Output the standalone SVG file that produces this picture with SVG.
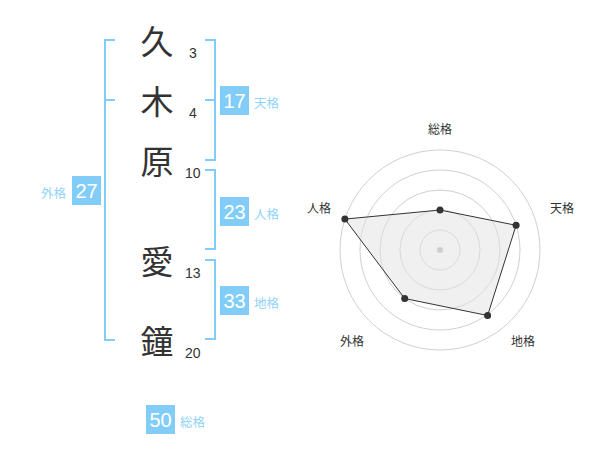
<svg xmlns="http://www.w3.org/2000/svg" width="600" height="470" viewBox="0 0 600 470">
<style>
.br{fill:none;stroke:#82cdf7;stroke-width:2}
.ch{font-family:"Noto Sans CJK JP","Noto Sans CJK SC",sans-serif;font-size:33px;fill:#333;text-anchor:middle}
.st{font-family:"Liberation Sans",Arial,sans-serif;font-size:14px;fill:#333}
.bx{fill:#82cdf7}
.bn{font-family:"Liberation Sans",Arial,sans-serif;font-size:20px;fill:#fff;text-anchor:middle}
.lb{font-family:"Noto Sans CJK JP","Noto Sans CJK SC",sans-serif;font-size:12.5px;fill:#8fd3f8}
.rl{font-family:"Noto Sans CJK JP","Noto Sans CJK SC",sans-serif;font-size:12px;fill:#333;text-anchor:middle}
.ring{fill:none;stroke:#d0d0d0;stroke-width:1}
</style>
<rect width="600" height="470" fill="#fff"/>
<g id="connectors">
<path class="br" d="M115,40 H105 V340 H115 M105,100 H115"/>
<path class="br" d="M205,40 H215 V160 H205 M215,100 H205"/>
<path class="br" d="M205,170 H215 V249 H205"/>
<path class="br" d="M205,260 H215 V339 H205"/>
</g>
<g id="char1"><text class="ch" x="157" y="54">久</text><text class="st" x="189" y="58">3</text></g>
<g id="char2"><text class="ch" x="157" y="114">木</text><text class="st" x="189" y="118">4</text></g>
<g id="char3"><text class="ch" x="157" y="174">原</text><text class="st" x="185" y="178">10</text></g>
<g id="char4"><text class="ch" x="157" y="274">愛</text><text class="st" x="185" y="278">13</text></g>
<g id="char5"><text class="ch" x="157" y="354">鐘</text><text class="st" x="185" y="358">20</text></g>
<g id="tenkaku"><rect class="bx" x="220" y="86" width="29" height="29"/><text class="bn" x="234.5" y="108">17</text><text class="lb" x="254" y="108">天格</text></g>
<g id="jinkaku"><rect class="bx" x="220" y="197" width="29" height="29"/><text class="bn" x="234.5" y="219">23</text><text class="lb" x="254" y="219">人格</text></g>
<g id="chikaku"><rect class="bx" x="220" y="286" width="29" height="29"/><text class="bn" x="234.5" y="308">33</text><text class="lb" x="254" y="308">地格</text></g>
<g id="gaikaku"><rect class="bx" x="72" y="176" width="29" height="29"/><text class="bn" x="86.5" y="198">27</text><text class="lb" x="66" y="198" text-anchor="end">外格</text></g>
<g id="soukaku"><rect class="bx" x="146" y="405" width="29" height="29"/><text class="bn" x="160.5" y="427">50</text><text class="lb" x="180" y="427">総格</text></g>
<g id="radar">
<circle class="ring" cx="440" cy="250" r="20"/>
<circle class="ring" cx="440" cy="250" r="40"/>
<circle class="ring" cx="440" cy="250" r="60"/>
<circle class="ring" cx="440" cy="250" r="80"/>
<circle class="ring" cx="440" cy="250" r="100"/>
<polygon points="440,210 516.1,225.3 487.6,315.5 404.7,298.5 344.9,219.1" fill="#e2e2e2" fill-opacity="0.5" stroke="#333" stroke-width="1"/>
<circle cx="440" cy="250" r="3" fill="#ccc"/>
<g fill="#333">
<circle cx="440" cy="210" r="3.5"/>
<circle cx="516.1" cy="225.3" r="3.5"/>
<circle cx="487.6" cy="315.5" r="3.5"/>
<circle cx="404.7" cy="298.5" r="3.5"/>
<circle cx="344.9" cy="219.1" r="3.5"/>
</g>
<text class="rl" x="440" y="134">総格</text>
<text class="rl" x="562" y="213">天格</text>
<text class="rl" x="319" y="213">人格</text>
<text class="rl" x="523" y="346">地格</text>
<text class="rl" x="352" y="346">外格</text>
</g>
</svg>
